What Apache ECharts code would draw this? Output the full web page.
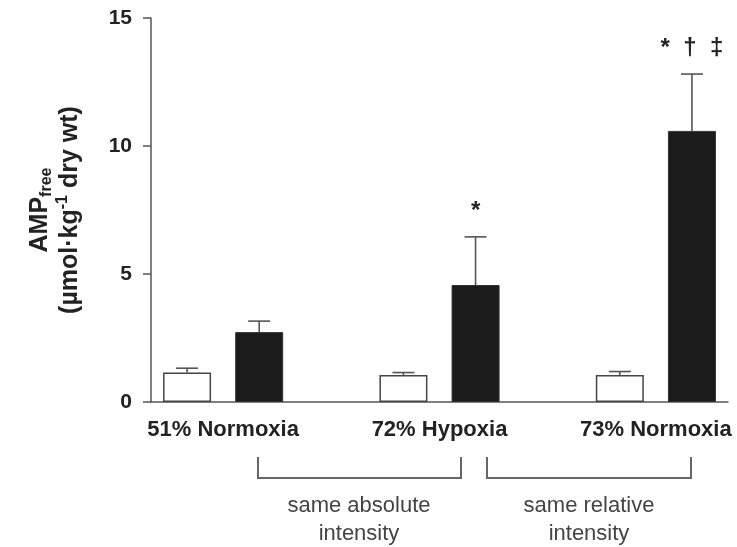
<!DOCTYPE html>
<html>
<head>
<meta charset="utf-8">
<script src="https://cdn.jsdelivr.net/npm/echarts@6/dist/echarts.min.js"></script>
<style>html,body{margin:0;padding:0;background:#fff}#c{width:737px;height:547px}</style>
</head>
<body>
<div id="c"></div>
<script>
// ---- data ----
var groups = ["51% Normoxia", "72% Hypoxia", "73% Normoxia"];
var restMean = [1.15, 1.05, 1.05];      // white bars
var restErr = [0.17, 0.10, 0.14];
var exMean = [2.73, 4.57, 10.59];       // black bars
var exErr = [0.43, 1.88, 2.22];
var exMarks = ["", "*", "* † ‡"];
var yTicks = [0, 5, 10, 15];
var bracketNames = ["same absolute\nintensity", "same relative\nintensity"];

// ---- build slots: white, black, gap per group ----
var FONT = "'Liberation Sans', Arial, Helvetica, sans-serif";
var slots = [], whiteData = [], blackData = [], errData = [];
groups.forEach(function (g, i) {
  slots.push(g + " rest");
  slots.push(g + " exercise");
  if (i < groups.length - 1) slots.push(g + " gap");
});
var n = slots.length;
for (var k = 0; k < n; k++) { whiteData.push('-'); blackData.push('-'); }
var labelPos = [];
groups.forEach(function (g, i) {
  var wi = i * 3, bi = i * 3 + 1;
  whiteData[wi] = restMean[i];
  blackData[bi] = exMean[i];
  errData.push([wi, restMean[i], restErr[i], ""]);
  errData.push([bi, exMean[i], exErr[i], exMarks[i]]);
  labelPos.push(wi + 0.5);
});

var chart = echarts.init(document.getElementById('c'), null, {renderer: 'canvas'});
var option = {
  animation: false,
  backgroundColor: '#fff',
  grid: {left: 151, right: 9, top: 18, bottom: 145, containLabel: false},
  xAxis: [{
    type: 'category', data: slots, boundaryGap: true,
    axisLine: {onZero: false, lineStyle: {color: '#555', width: 1.5}},
    axisTick: {show: false}, axisLabel: {show: false}, splitLine: {show: false}
  }, {
    type: 'value', min: -0.5, max: n - 0.5, position: 'bottom', offset: 0,
    axisLine: {show: false, onZero: false}, axisTick: {show: false}, splitLine: {show: false},
    axisLabel: {
      customValues: labelPos, margin: 17,
      formatter: function (v) { var idx = labelPos.indexOf(v); return idx >= 0 ? groups[idx] : ''; },
      fontFamily: FONT, fontWeight: 'bold', fontSize: 22, color: '#222'
    }
  }],
  yAxis: {
    type: 'value', min: 0, max: 15, interval: 5,
    axisLine: {show: true, onZero: false, lineStyle: {color: '#555', width: 1.5}},
    axisTick: {show: true, inside: false, length: 8, lineStyle: {color: '#555', width: 1.5}},
    splitLine: {show: false},
    axisLabel: {margin: 19, fontFamily: FONT, fontWeight: 'bold', fontSize: 21, color: '#222',
      customValues: yTicks},
    name: '{b|AMP}{sub|free}\n{b|(µmol·kg}{sup|-1}{b| dry wt)}',
    nameLocation: 'middle', nameGap: 66, nameRotate: 90,
    nameTextStyle: {
      fontFamily: FONT, fontWeight: 'bold', fontSize: 25, color: '#222', align: 'center',
      rich: {
        b: {fontFamily: FONT, fontWeight: 'bold', fontSize: 25, color: '#222', lineHeight: 30},
        sub: {fontFamily: FONT, fontWeight: 'bold', fontSize: 16, color: '#222', lineHeight: 12, verticalAlign: 'bottom'},
        sup: {fontFamily: FONT, fontWeight: 'bold', fontSize: 16, color: '#222', lineHeight: 12, verticalAlign: 'top'}
      }
    }
  },
  series: [{
    type: 'bar', name: 'rest', data: whiteData, barWidth: 48, barGap: '-100%',
    itemStyle: {color: '#fff', borderColor: '#444', borderWidth: 1.5}, z: 2
  }, {
    type: 'bar', name: 'exercise', data: blackData, barWidth: 48, barGap: '-100%',
    itemStyle: {color: '#1b1b1b', borderColor: '#333', borderWidth: 1}, z: 2
  }, {
    type: 'custom', name: 'err', data: errData, z: 1,
    encode: {x: 0, y: 1},
    renderItem: function (params, api) {
      var x = api.value(0), m = api.value(1), e = api.value(2);
      var mark = errData[params.dataIndex][3];
      var p0 = api.coord([x, m]);
      var p1 = api.coord([x, m + e]);
      var hw = 11;
      var children = [
        {type: 'line', shape: {x1: p0[0], y1: p0[1], x2: p1[0], y2: p1[1]}, style: {stroke: '#555', lineWidth: 1.6}},
        {type: 'line', shape: {x1: p1[0] - hw, y1: p1[1], x2: p1[0] + hw, y2: p1[1]}, style: {stroke: '#555', lineWidth: 1.6}}
      ];
      if (mark) {
        children.push({type: 'text', x: p1[0], y: p1[1] - 26,
          style: {text: mark.split(' ').join('  '), fontFamily: FONT, fontWeight: 'bold', fontSize: 24, fill: '#222',
            align: 'center', verticalAlign: 'middle'}});
      }
      return {type: 'group', children: children};
    }
  }],
  graphic: [
    {type: 'polyline', shape: {points: [[258, 457], [258, 478], [461, 478], [461, 457]]}, style: {stroke: '#666', lineWidth: 2, fill: null}},
    {type: 'polyline', shape: {points: [[487, 457], [487, 478], [691, 478], [691, 457]]}, style: {stroke: '#666', lineWidth: 2, fill: null}},
    {type: 'text', x: 359, y: 492, style: {text: bracketNames[0], fontFamily: FONT, fontSize: 22, fill: '#444', align: 'center', verticalAlign: 'top', lineHeight: 28}},
    {type: 'text', x: 589, y: 492, style: {text: bracketNames[1], fontFamily: FONT, fontSize: 22, fill: '#444', align: 'center', verticalAlign: 'top', lineHeight: 28}}
  ]
};
chart.setOption(option);
</script>
</body>
</html>
